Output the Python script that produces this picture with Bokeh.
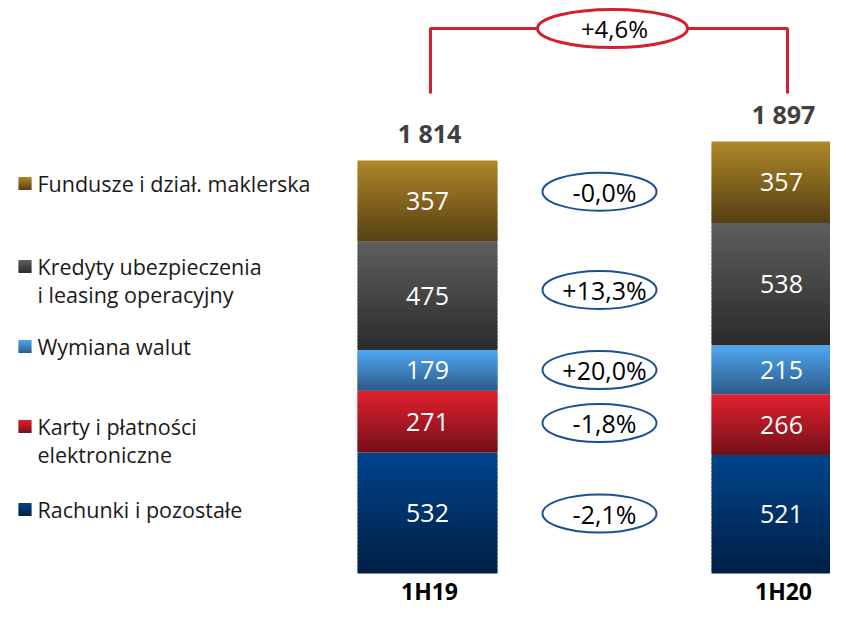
from bokeh.plotting import figure
from bokeh.models import Range1d
from bokeh.core.properties import value
from bokeh.embed import file_html
from bokeh.resources import INLINE

# ---- data ----
periods = ["1H19", "1H20"]
segments = ["Rachunki i pozostałe", "Karty i płatności elektroniczne", "Wymiana walut",
            "Kredyty ubezpieczenia i leasing operacyjny", "Fundusze i dział. maklerska"]
legend_lines = [["Rachunki i pozostałe"], ["Karty i płatności", "elektroniczne"], ["Wymiana walut"],
                ["Kredyty ubezpieczenia", "i leasing operacyjny"], ["Fundusze i dział. maklerska"]]
v_1h19 = [532, 271, 179, 475, 357]
v_1h20 = [521, 266, 215, 538, 357]
totals = ["1 814", "1 897"]
changes = ["-2,1%", "-1,8%", "+20,0%", "+13,3%", "-0,0%"]
total_change = "+4,6%"

# ---- style ----
grad = [("#00448C", "#001F45"), ("#E3202D", "#73101A"), ("#4FA8F2", "#2D5A88"),
        ("#5E5E5E", "#2B2B2B"), ("#B08828", "#553F14")]
FONT = "Open Sans"
W, H = 830, 607
scale = 413 / 1814.0          # px per unit
base_px = 573                 # image y of the baseline
def vy(img_y):
    return (base_px - img_y) / scale
px = 1 / scale

bar_cx = [427, 781]
bar_w = 140

p = figure(width=W, height=H, x_range=Range1d(0, W),
           y_range=Range1d(vy(H), vy(0)), output_backend="svg",
           toolbar_location=None, min_border=0,
           x_axis_location=None, y_axis_location=None)
p.grid.visible = False
p.outline_line_color = None
p.background_fill_color = "white"

def mix(c1, c2, t):
    a = [int(c1[i:i + 2], 16) for i in (1, 3, 5)]
    b = [int(c2[i:i + 2], 16) for i in (1, 3, 5)]
    return "#%02x%02x%02x" % tuple(round(a[k] + (b[k] - a[k]) * t) for k in range(3))

def grad_quad(left, right, bottom, top, c_top, c_bot, n=30, eps=1.0):
    L, R, B, T, C = [], [], [], [], []
    for i in range(n):
        t0 = top - (top - bottom) * i / n
        t1 = top - (top - bottom) * (i + 1) / n
        if i < n - 1:
            t1 -= eps
        L.append(left); R.append(right); T.append(t0); B.append(t1)
        C.append(mix(c_top, c_bot, (i + 0.5) / n))
    p.quad(left=L, right=R, top=T, bottom=B, fill_color=C, line_color=None)

mids = []
for k, vals in enumerate([v_1h19, v_1h20]):
    cum = 0
    m = []
    for j, v in enumerate(vals):
        grad_quad(bar_cx[k] - bar_w / 2, bar_cx[k] + bar_w / 2, cum, cum + v,
                  grad[j][0], grad[j][1], eps=1.2 * px)
        m.append(cum + v / 2)
        cum += v
    mids.append(m)
    p.text(x=[bar_cx[k]] * len(vals), y=m, text=[str(v) for v in vals],
           text_color="white", text_font=value(FONT), text_font_size="25px",
           text_align="center", text_baseline="middle")
    p.text(x=[bar_cx[k] + 2], y=[cum + 28 * px], text=[totals[k]],
           text_color="#404040", text_font=value(FONT), text_font_size="25px",
           text_font_style="bold", text_align="center", text_baseline="middle")
    p.text(x=[bar_cx[k] + 2], y=[vy(590)], text=[periods[k]], text_color="black",
           text_font=value(FONT), text_font_size="23px", text_font_style="bold",
           text_align="center", text_baseline="middle")

# change ellipses
ex = 599
ey = [(a + b) / 2 for a, b in zip(mids[0], mids[1])]
p.ellipse(x=[ex] * len(ey), y=ey, width=114, height=38, width_units="screen",
          height_units="screen", fill_color="white", line_color="#1B4F96", line_width=2)
p.text(x=[ex + 5] * len(ey), y=ey, text=changes, text_color="black", text_font=value(FONT),
       text_font_size="25px", text_align="center", text_baseline="middle")

# total bracket
y_low, y_top = vy(93), vy(28)
xl, xr = 430, 787
ecx = 612
p.line(x=[xl, xl, ecx], y=[y_low, y_top, y_top], line_color="#D3202E", line_width=3)
p.line(x=[ecx, xr, xr], y=[y_top, y_top, y_low], line_color="#D3202E", line_width=3)
p.ellipse(x=[ecx], y=[y_top], width=150, height=38, width_units="screen",
          height_units="screen", fill_color="white", line_color="#D3202E", line_width=3)
p.text(x=[ecx + 2], y=[y_top], text=[total_change], text_color="black", text_font=value(FONT),
       text_font_size="24px", text_align="center", text_baseline="middle")

# legend
leg_y = [509, 426, 346, 266, 183]
for j, lines in enumerate(legend_lines):
    yy = leg_y[j]
    grad_quad(18, 31, vy(yy + 6.5), vy(yy - 6.5), grad[j][0], grad[j][1], n=8, eps=0.8 * px)
    for li, t in enumerate(lines):
        p.text(x=[37], y=[vy(yy + li * 28)], text=[t], text_color="#1a1a1a",
               text_font=value(FONT), text_font_size="21.5px", text_align="left",
               text_baseline="middle")

open("out.html", "w").write(file_html(p, INLINE))
